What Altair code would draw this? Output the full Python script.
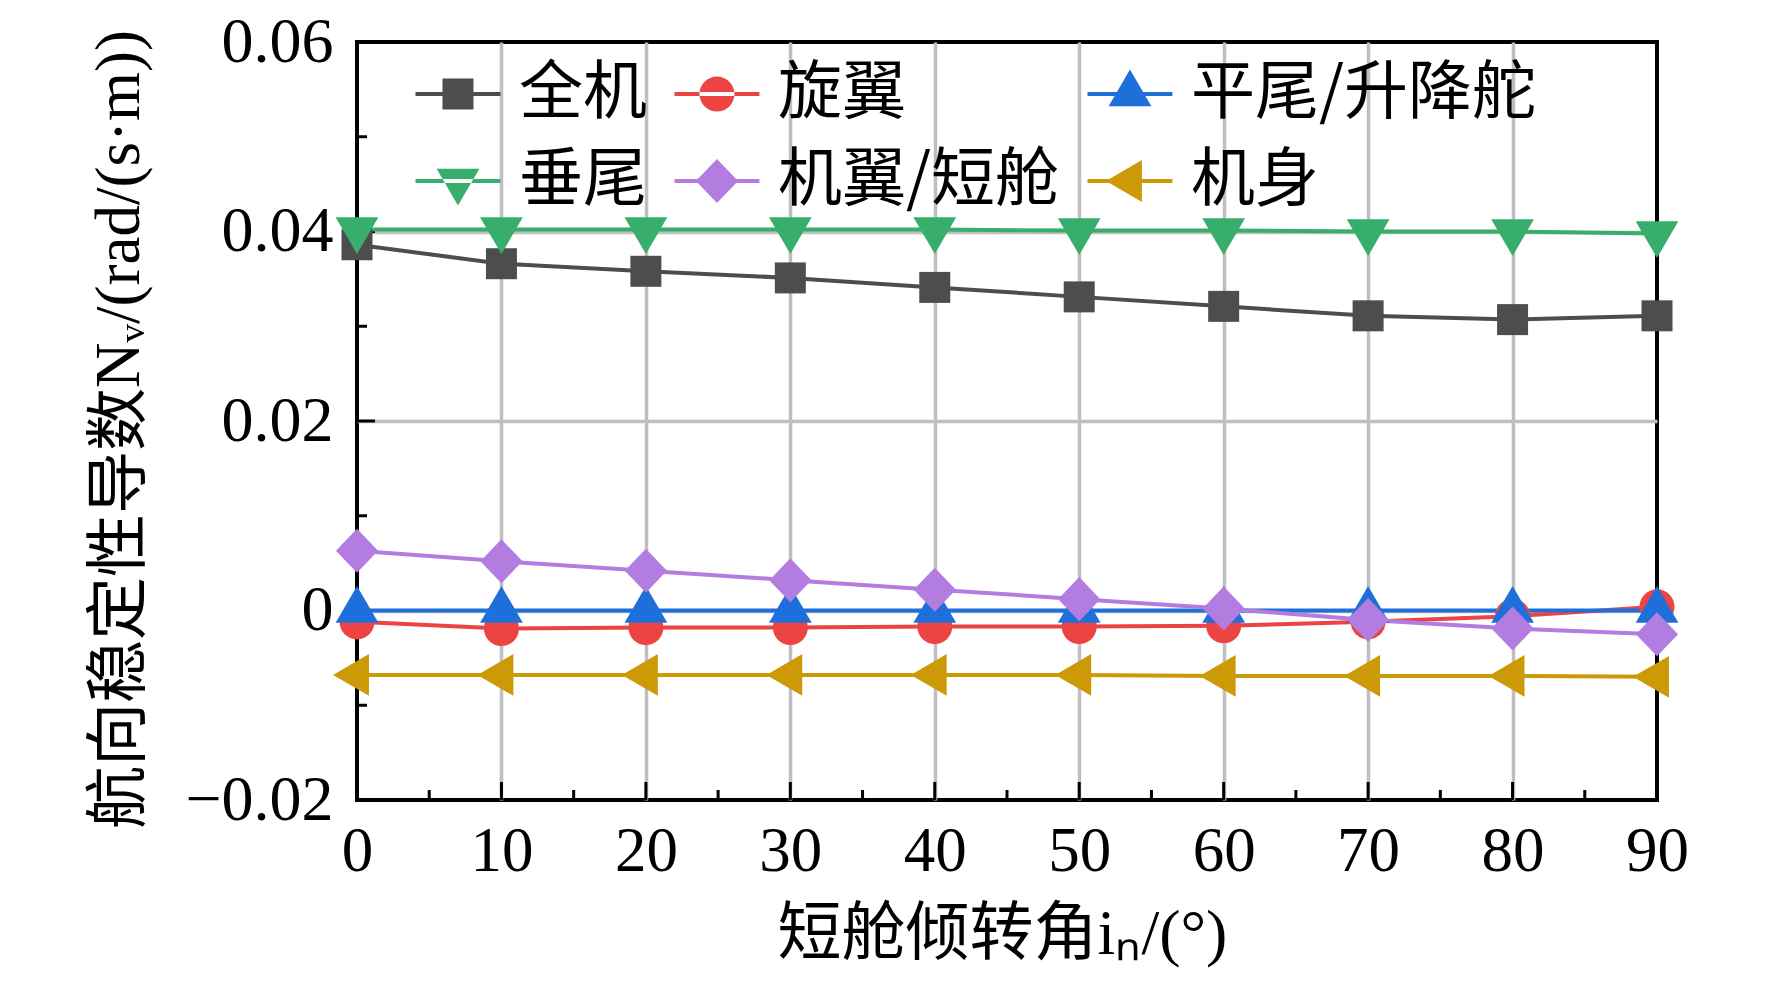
import altair as alt
import pandas as pd

# ---------------- data ----------------
angles = [0, 10, 20, 30, 40, 50, 60, 70, 80, 90]
series_names = ["全机", "旋翼", "平尾/升降舵", "垂尾", "机翼/短舱", "机身"]
whole = [0.0386, 0.0366, 0.0358, 0.0351, 0.0341, 0.0331, 0.0321, 0.0311, 0.0307, 0.0311]
rotor = [-0.0012, -0.0019, -0.0018, -0.0018, -0.0017, -0.0017, -0.0016, -0.0012, -0.0006, 0.0004]
htail = [0.0, 0.0, 0.0, 0.0, 0.0, 0.0, 0.0, 0.0, 0.0, 0.0]
vtail = [0.0402, 0.0402, 0.0402, 0.0402, 0.0402, 0.0401, 0.0401, 0.0400, 0.0400, 0.0398]
wing = [0.0063, 0.0052, 0.0042, 0.0032, 0.0022, 0.0012, 0.0002, -0.0010, -0.0019, -0.0025]
fuselage = [-0.0068, -0.0068, -0.0068, -0.0068, -0.0068, -0.0068, -0.0069, -0.0069, -0.0069, -0.0070]
all_values = [whole, rotor, htail, vtail, wing, fuselage]

x_major = [0, 10, 20, 30, 40, 50, 60, 70, 80, 90]
x_minor = [5, 15, 25, 35, 45, 55, 65, 75, 85]
y_major = [-0.02, 0.0, 0.02, 0.04, 0.06]
y_minor = [-0.01, 0.01, 0.03, 0.05]

colors = ["#4d4d4d", "#ee4343", "#1f6fdb", "#37ae6b", "#b27ce0", "#cc9a06"]

# ---------------- marker shapes (unit paths) ----------------
def sq(cx):
    return f"M{cx-1},-1H{cx+1}V1H{cx-1}Z"
def circ(cx):
    r = 1.13
    return f"M{cx-r},0A{r},{r},0,1,0,{cx+r},0A{r},{r},0,1,0,{cx-r},0Z"
def tri_up(cx):
    return f"M{cx},-1.58L{cx+1.38},0.79L{cx-1.38},0.79Z"
def tri_down(cx):
    return f"M{cx},1.58L{cx+1.38},-0.79L{cx-1.38},-0.79Z"
def diamond(cx):
    return f"M{cx},-1.42L{cx+1.36},0L{cx},1.42L{cx-1.36},0Z"
def tri_left(cx):
    return f"M{cx-1.55},0L{cx+0.77},-1.35L{cx+0.77},1.35Z"

makers = [sq, circ, tri_up, tri_down, diamond, tri_left]
point_shapes = [f(0) for f in makers]
seg = "M-1,-0.13H4.48V0.13H-1Z"
legend_shapes = [seg + f(1.74) for f in makers]

rows = []
for name, vals in zip(series_names, all_values):
    for a, v in zip(angles, vals):
        rows.append({"angle": a, "value": v, "series": name})
df = pd.DataFrame(rows)

W, H = 1300, 758
SERIF = "Liberation Serif, Noto Sans CJK SC"
CJK = "Noto Sans CJK SC"
GRID = "#bfbfbf"

xscale = alt.Scale(domain=[0, 90], nice=False, zero=False)
yscale = alt.Scale(domain=[-0.02, 0.06], nice=False, zero=False)
cscale = alt.Scale(domain=series_names, range=colors)

x_axis = alt.Axis(
    values=x_major, grid=True, gridColor=GRID, gridWidth=3.5,
    gridOpacity=alt.condition("datum.value <= 0 || datum.value >= 90", alt.value(0), alt.value(1)),
    domain=False, ticks=False, tickSize=0,
    labelFont=SERIF, labelFontSize=63, labelColor="black", labelPadding=20,
    labelFlush=False, labelOverlap=False,
    title="短舱倾转角iₙ/(°)", titleFont=SERIF, titleFontSize=64,
    titleFontWeight="normal", titleColor="black",
    titleX=W / 2 - 5, titleY=134, titleBaseline="middle", titleAlign="center",
)
y_axis = alt.Axis(
    values=y_major, grid=True, gridColor=GRID, gridWidth=3.5,
    gridOpacity=alt.condition("datum.value <= -0.0199 || datum.value >= 0.0599", alt.value(0), alt.value(1)),
    domain=False, ticks=False, tickSize=0,
    labelFont=SERIF, labelFontSize=64, labelColor="black", labelPadding=24,
    labelFlush=False, labelOverlap=False,
    labelExpr="datum.value == 0 ? '0' : replace(format(datum.value, '.2f'), '-', '\u2212')",
    title="航向稳定性导数Nᵥ/(rad/(s·m))", titleFont=SERIF, titleFontSize=63,
    titleFontWeight="normal", titleColor="black",
    titleX=-238, titleY=387, titleBaseline="middle", titleAlign="center", titleAngle=270,
)

X = lambda f: alt.X(f, scale=xscale, axis=x_axis)
Y = lambda f: alt.Y(f, scale=yscale, axis=y_axis)

base = alt.Chart(df)

lines = base.mark_line(strokeWidth=4).encode(
    x=X("angle:Q"),
    y=Y("value:Q"),
    color=alt.Color("series:N", scale=cscale, legend=None),
)

points = base.mark_point(filled=True, size=961, opacity=1, strokeWidth=0).encode(
    x=X("angle:Q"),
    y=Y("value:Q"),
    color=alt.Color("series:N", scale=cscale, legend=None),
    shape=alt.Shape("series:N", scale=alt.Scale(domain=series_names, range=point_shapes), legend=None),
)

leg = alt.Legend(
    orient="none", legendX=42, legendY=20, columns=3, direction="horizontal", title=None,
    symbolSize=961, symbolStrokeWidth=0, symbolOpacity=1,
    labelFont=CJK, labelFontSize=64, labelColor="black", labelOffset=56, labelLimit=0,
    columnPadding=11, rowPadding=23, padding=0,
)
legend_layer = base.transform_filter("false").mark_point(filled=True, size=961, opacity=1, strokeWidth=0).encode(
    x=X("angle:Q"),
    y=Y("value:Q"),
    color=alt.Color("series:N", scale=cscale, legend=leg),
    shape=alt.Shape("series:N", scale=alt.Scale(domain=series_names, range=legend_shapes), legend=leg),
)

# inward tick marks
xmaj_df = pd.DataFrame({"angle": x_major})
xmin_df = pd.DataFrame({"angle": x_minor})
ymaj_df = pd.DataFrame({"value": y_major})
ymin_df = pd.DataFrame({"value": y_minor})

xmaj = alt.Chart(xmaj_df).mark_rule(color="black", strokeWidth=3).encode(
    x=X("angle:Q"), y=alt.value(H), y2=alt.value(H - 18))
xmin = alt.Chart(xmin_df).mark_rule(color="black", strokeWidth=3).encode(
    x=X("angle:Q"), y=alt.value(H), y2=alt.value(H - 10))
ymaj = alt.Chart(ymaj_df).mark_rule(color="black", strokeWidth=3).encode(
    y=Y("value:Q"), x=alt.value(0), x2=alt.value(18))
ymin = alt.Chart(ymin_df).mark_rule(color="black", strokeWidth=3).encode(
    y=Y("value:Q"), x=alt.value(0), x2=alt.value(10))

chart = alt.layer(xmaj, xmin, ymaj, ymin, lines, points, legend_layer).resolve_scale(
    color="independent", shape="independent"
).properties(
    width=W, height=H,
    background="white",
    autosize=alt.AutoSizeParams(type="none"),
    padding={"left": 349, "top": 34, "right": 107, "bottom": 182},
).configure_view(stroke="black", strokeWidth=4)

chart.save("out.html", embed_options={"renderer": "svg", "actions": False})
